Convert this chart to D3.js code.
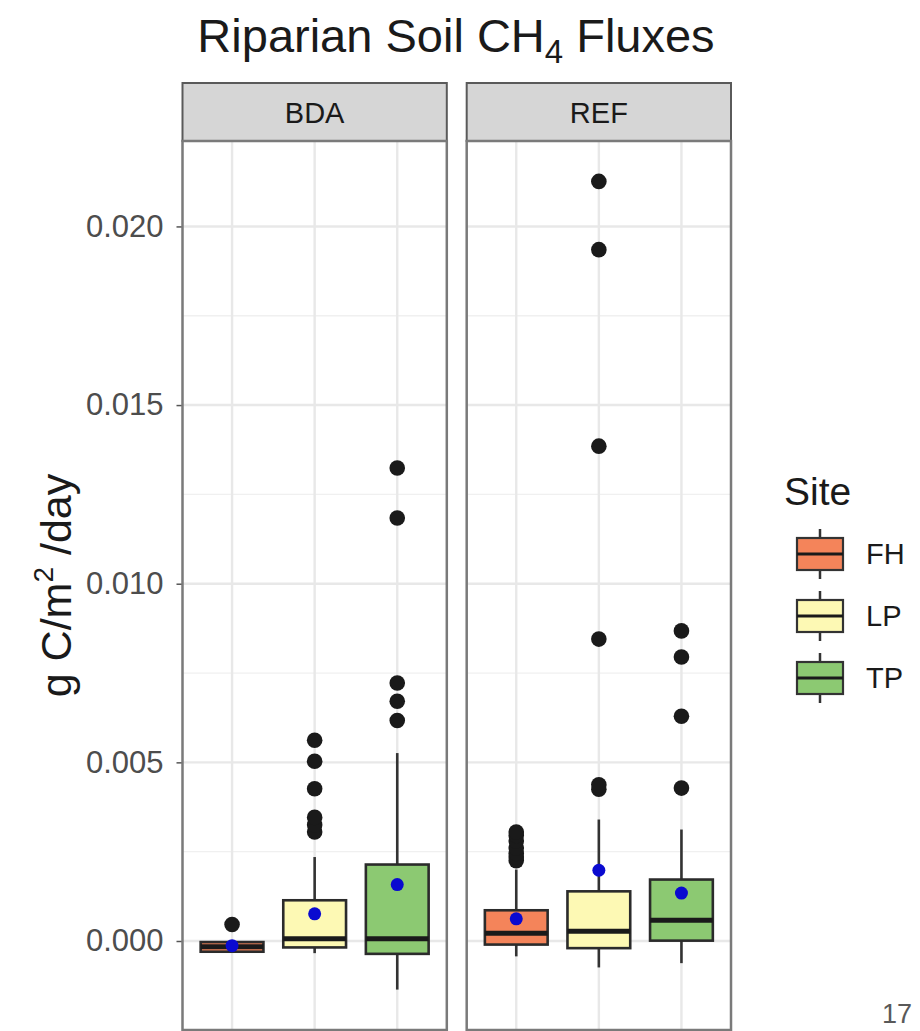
<!DOCTYPE html>
<html>
<head>
<meta charset="utf-8">
<script src="https://d3js.org/d3.v7.min.js"></script>
<style>
  body { margin: 0; background: #fff; }
  text { font-family: "Liberation Sans", Arial, sans-serif; }
</style>
</head>
<body>
<div id="chart"></div>
<script>
// facets and sites
var facets = ["BDA", "REF"];
var sites = ["FH", "LP", "TP"];
var siteColors = ["#f4845a", "#fdf9b4", "#8cc972"];
var yTicks = [0, 0.005, 0.010, 0.015, 0.020];
var yMinor = [0.0025, 0.0075, 0.0125, 0.0175];

// box statistics, one row per facet, one value per site (FH, LP, TP)
var whiskerLow  = [[-0.00030, -0.00034, -0.00136], [-0.00043, -0.00074, -0.00062]];
var q1          = [[-0.00030, -0.00018, -0.00036], [-0.00010, -0.00020,  0.00001]];
var medians     = [[-0.00016,  0.00006,  0.00006], [ 0.00022,  0.00027,  0.00058]];
var q3          = [[-0.00003,  0.00114,  0.00214], [ 0.00086,  0.00139,  0.00172]];
var whiskerHigh = [[-0.00002,  0.00235,  0.00526], [ 0.00200,  0.00340,  0.00312]];
var means       = [[-0.00013,  0.00076,  0.00158], [ 0.00062,  0.00198,  0.00134]];

var outliersBDA = [
  [0.00046],
  [0.00305, 0.00325, 0.00346, 0.00426, 0.00503, 0.00562],
  [0.00617, 0.00671, 0.00722, 0.01184, 0.01324]
];
var outliersREF = [
  [0.00225, 0.00235, 0.00245, 0.00260, 0.00280, 0.00295, 0.00305],
  [0.00425, 0.00437, 0.00845, 0.01385, 0.01935, 0.02126],
  [0.00428, 0.00629, 0.00795, 0.00868]
];
var outliers = [outliersBDA, outliersREF];

var W = 920, H = 1031;
var svg = d3.select("#chart").append("svg").attr("width", W).attr("height", H);

var panelTop = 141, panelBottom = 1030;
var stripTop = 83;

var facetX = d3.scaleBand().domain(facets).range([182.5, 731]).paddingInner(0.07).paddingOuter(0);

// y domain with 5% expansion, like ggplot
var allVals = [];
for (var f = 0; f < facets.length; f++) {
  allVals = allVals.concat(whiskerLow[f], whiskerHigh[f]);
  outliers[f].forEach(function(o){ allVals = allVals.concat(o); });
}
var lo = d3.min(allVals), hi = d3.max(allVals), pad = (hi - lo) * 0.05;
var y = d3.scaleLinear().domain([lo - pad, hi + pad]).range([panelBottom, panelTop]);

// title
var title = svg.append("text").attr("x", 456).attr("y", 52).attr("text-anchor", "middle")
  .attr("font-size", 47).attr("fill", "#1a1a1a");
title.append("tspan").text("Riparian Soil CH");
title.append("tspan").attr("font-size", 33).attr("dy", 11).text("4");
title.append("tspan").attr("dy", -11).text(" Fluxes");

// y axis title
var ytitle = svg.append("text").attr("transform", "translate(71," + ((panelTop + panelBottom) / 2) + ") rotate(-90)")
  .attr("text-anchor", "middle").attr("font-size", 43).attr("fill", "#1a1a1a");
ytitle.append("tspan").text("g C/m");
ytitle.append("tspan").attr("font-size", 28).attr("dy", -18).text("2");
ytitle.append("tspan").attr("dy", 18).text(" /day");

// y axis on the left
var yAxis = d3.axisLeft(y).tickValues(yTicks).tickFormat(d3.format(".3f")).tickSize(6).tickPadding(13);
var ga = svg.append("g").attr("transform", "translate(" + facetX("BDA") + ",0)").call(yAxis);
ga.select(".domain").remove();
ga.selectAll(".tick line").attr("stroke", "#555").attr("stroke-width", 1.5);
ga.selectAll(".tick text").attr("font-size", 31).attr("fill", "#4d4d4d")
  .attr("font-family", "Liberation Sans, Arial, sans-serif");

facets.forEach(function(fac, fi) {
  var px = facetX(fac), pw = facetX.bandwidth();
  var x = d3.scalePoint().domain(sites).range([px, px + pw]).padding(0.6);
  var boxW = x.step() * 0.76;
  var g = svg.append("g");

  // strip
  g.append("rect").attr("x", px).attr("y", stripTop).attr("width", pw).attr("height", panelTop - stripTop)
    .attr("fill", "#d6d6d6").attr("stroke", "#5a5a5a").attr("stroke-width", 2);
  g.append("text").attr("x", px + pw / 2).attr("y", (stripTop + panelTop) / 2 + 11)
    .attr("text-anchor", "middle").attr("font-size", 29).attr("fill", "#1a1a1a").text(fac);

  // grid
  g.selectAll(".minor").data(yMinor).enter().append("line")
    .attr("x1", px).attr("x2", px + pw).attr("y1", function(d){ return y(d); }).attr("y2", function(d){ return y(d); })
    .attr("stroke", "#f0f0f0").attr("stroke-width", 1.3);
  g.selectAll(".major").data(yTicks).enter().append("line")
    .attr("x1", px).attr("x2", px + pw).attr("y1", function(d){ return y(d); }).attr("y2", function(d){ return y(d); })
    .attr("stroke", "#e8e8e8").attr("stroke-width", 2.4);
  g.selectAll(".vgrid").data(sites).enter().append("line")
    .attr("x1", function(d){ return x(d); }).attr("x2", function(d){ return x(d); })
    .attr("y1", panelTop).attr("y2", panelBottom)
    .attr("stroke", "#e8e8e8").attr("stroke-width", 2.4);

  sites.forEach(function(s, si) {
    var cx = x(s);
    // whiskers
    g.append("line").attr("x1", cx).attr("x2", cx).attr("y1", y(q3[fi][si])).attr("y2", y(whiskerHigh[fi][si]))
      .attr("stroke", "#333").attr("stroke-width", 2.6);
    g.append("line").attr("x1", cx).attr("x2", cx).attr("y1", y(q1[fi][si])).attr("y2", y(whiskerLow[fi][si]))
      .attr("stroke", "#333").attr("stroke-width", 2.6);
    // box
    g.append("rect").attr("x", cx - boxW / 2).attr("width", boxW)
      .attr("y", y(q3[fi][si])).attr("height", y(q1[fi][si]) - y(q3[fi][si]))
      .attr("fill", siteColors[si]).attr("stroke", "#2b2b2b").attr("stroke-width", 2.6);
    g.append("line").attr("x1", cx - boxW / 2).attr("x2", cx + boxW / 2)
      .attr("y1", y(medians[fi][si])).attr("y2", y(medians[fi][si]))
      .attr("stroke", "#1a1a1a").attr("stroke-width", 5);
    // outliers
    g.selectAll(".out" + si).data(outliers[fi][si]).enter().append("circle")
      .attr("cx", cx).attr("cy", function(d){ return y(d); }).attr("r", 7.8).attr("fill", "#1a1a1a");
    // mean
    g.append("circle").attr("cx", cx).attr("cy", y(means[fi][si])).attr("r", 6.5).attr("fill", "#0a0ad0");
  });

  // panel border
  g.append("rect").attr("x", px).attr("y", panelTop).attr("width", pw).attr("height", panelBottom - panelTop)
    .attr("fill", "none").attr("stroke", "#7a7a7a").attr("stroke-width", 2.5);
});

// legend
var lg = svg.append("g");
lg.append("text").attr("x", 784).attr("y", 505).attr("font-size", 39).attr("fill", "#1a1a1a").text("Site");
var keyY = d3.scalePoint().domain(sites).range([554, 678]);
sites.forEach(function(s, si) {
  var cy = keyY(s), cx = 820;
  lg.append("line").attr("x1", cx).attr("x2", cx).attr("y1", cy - 25).attr("y2", cy + 25)
    .attr("stroke", "#333").attr("stroke-width", 2.5);
  lg.append("rect").attr("x", cx - 23).attr("y", cy - 16).attr("width", 46).attr("height", 32)
    .attr("fill", siteColors[si]).attr("stroke", "#333").attr("stroke-width", 2.2);
  lg.append("line").attr("x1", cx - 23).attr("x2", cx + 23).attr("y1", cy).attr("y2", cy)
    .attr("stroke", "#1a1a1a").attr("stroke-width", 3);
  lg.append("text").attr("x", 866).attr("y", cy + 10).attr("font-size", 29).attr("fill", "#1a1a1a").text(s);
});

// page number
svg.append("text").attr("x", 912).attr("y", 1023).attr("text-anchor", "end")
  .attr("font-size", 27).attr("fill", "#595959").text("17");
</script>
</body>
</html>
